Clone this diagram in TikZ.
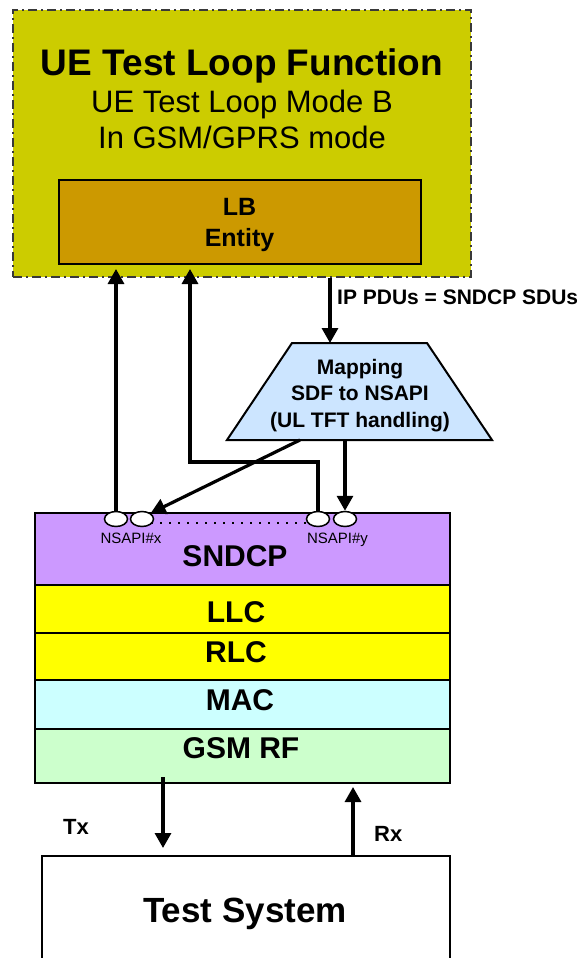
\documentclass[tikz,border=0pt]{standalone}
\usepackage{fontspec}
\setmainfont{Liberation Sans}
\usetikzlibrary{arrows.meta,shapes.geometric,calc}
\definecolor{olivebox}{RGB}{204,204,0}
\definecolor{lbfill}{RGB}{204,153,0}
\definecolor{mapfill}{RGB}{204,229,255}
\definecolor{sndcpfill}{RGB}{204,153,255}
\definecolor{llcfill}{RGB}{255,255,0}
\definecolor{macfill}{RGB}{204,255,255}
\definecolor{rffill}{RGB}{204,255,204}
\begin{document}
\begin{tikzpicture}[x=1pt,y=-1pt,
  box/.style={draw, line width=2pt, anchor=north west, inner sep=0pt},
  layer/.style={draw, line width=2pt, anchor=north west, inner sep=0pt, minimum width=415pt},
  arr/.style={line width=3.2pt, -{Triangle[width=16pt,length=15pt]}},
  lbl/.style={anchor=base, inner sep=0pt, font=\bfseries\fontsize{30}{30}\selectfont},
  small/.style={anchor=base, inner sep=0pt, font=\fontsize{15}{15}\selectfont},
  port/.style={ellipse, draw, line width=1.5pt, fill=white, minimum width=23pt, minimum height=15pt, inner sep=0pt}
]
\useasboundingbox (0,0) rectangle (585,958);

% top UE test loop function box
\node[box, draw=gray!45!black, line width=2pt, dash pattern=on 9pt off 4pt on 2pt off 4pt,
      fill=olivebox, minimum width=458pt, minimum height=267pt] (ue) at (12,9) {};
\node[anchor=base, inner sep=0pt, font=\bfseries\fontsize{37}{37}\selectfont] (title) at (242,75) {UE Test Loop Function};
\node[anchor=base, inner sep=0pt, font=\fontsize{31}{31}\selectfont] (sub1) at (242,112) {UE Test Loop Mode B};
\node[anchor=base, inner sep=0pt, font=\fontsize{31}{31}\selectfont] (sub2) at (242,148) {In GSM/GPRS mode};

% LB entity
\node[box, fill=lbfill, minimum width=362pt, minimum height=84pt] (lb) at (58,179) {};
\node[anchor=base, inner sep=0pt, font=\bfseries\fontsize{25}{25}\selectfont] (lbt1) at (239.5,215) {LB};
\node[anchor=base, inner sep=0pt, font=\bfseries\fontsize{25}{25}\selectfont] (lbt2) at (239.5,246) {Entity};

% mapping trapezoid
\coordinate (mtl) at (292,343);
\coordinate (mtr) at (427,343);
\coordinate (mbr) at (492,440);
\coordinate (mbl) at (227,440);
\draw[line width=2pt, fill=mapfill, line join=miter] (mtl) -- (mtr) -- (mbr) -- (mbl) -- cycle;
\node[align=center, inner sep=0pt, font=\bfseries\fontsize{21}{26.5}\selectfont] (map) at (360,395.5) {Mapping\\SDF to NSAPI\\(UL TFT handling)};

% protocol stack
\node[layer, fill=sndcpfill, minimum height=72pt] (sndcp) at (34,512) {};
\node[layer, fill=llcfill, minimum height=48pt] (llc) at (34,584) {};
\node[layer, fill=llcfill, minimum height=47pt] (rlc) at (34,632) {};
\node[layer, fill=macfill, minimum height=49pt] (mac) at (34,679) {};
\node[layer, fill=rffill, minimum height=54pt] (gsm) at (34,728) {};
\node[lbl] (sndcpt) at (235,566) {SNDCP};
\node[lbl] (llct) at (236,622) {LLC};
\node[lbl] (rlct) at (236,662) {RLC};
\node[lbl] (mact) at (240,710) {MAC};
\node[lbl] (gsmt) at (241,758) {GSM RF};

% NSAPI ports
\draw[line width=1.5pt, dash pattern=on 1.5pt off 7.5pt] ([yshift=-4pt]142,519) -- ([yshift=-4pt]318,519);
\node[port] (o1) at (116,519) {};
\node[port] (o2) at (142,519) {};
\node[port] (o3) at (318,519) {};
\node[port] (o4) at (345,519) {};
\node[small] (nx) at (131,543) {NSAPI\#x};
\node[small] (ny) at (337.5,543) {NSAPI\#y};

% test system
\node[box, fill=white, minimum width=408pt, minimum height=115pt] (ts) at (41,855) {};
\node[anchor=base, inner sep=0pt, font=\bfseries\fontsize{35}{35}\selectfont] (tst) at (245,922) {Test System};

% connectors
\coordinate (k) at (190,462);
\coordinate (ip) at (330,0);
\coordinate (m1) at (300,0);
\coordinate (tx) at (163,0);
\coordinate (rx) at (353,0);
\draw[arr] (o1.north) -- ([yshift=-4pt]lb.south -| o1.north);
\draw[arr] (o3.north) |- (k) -- ([yshift=-4pt]lb.south -| k);
\draw[arr] (ue.south -| ip) -- (ip |- mtl);
\node[anchor=base west, inner sep=0pt, font=\bfseries\fontsize{21}{21}\selectfont] (iplbl) at (337,304) {IP PDUs = SNDCP SDUs};
\draw[arr] (m1 |- mbl) -- (o2.north east);
\draw[arr] (o4 |- mbl) -- (o4.north);
\draw[arr] ([yshift=7pt]gsm.south -| tx) -- ([yshift=7pt]ts.north -| tx);
\draw[arr] (ts.north -| rx) -- ([yshift=-3pt]gsm.south -| rx);
\node[anchor=base west, inner sep=0pt, font=\bfseries\fontsize{22}{22}\selectfont] (txl) at (63,834) {Tx};
\node[anchor=base west, inner sep=0pt, font=\bfseries\fontsize{22}{22}\selectfont] (rxl) at (374,841) {Rx};
\end{tikzpicture}
\end{document}
